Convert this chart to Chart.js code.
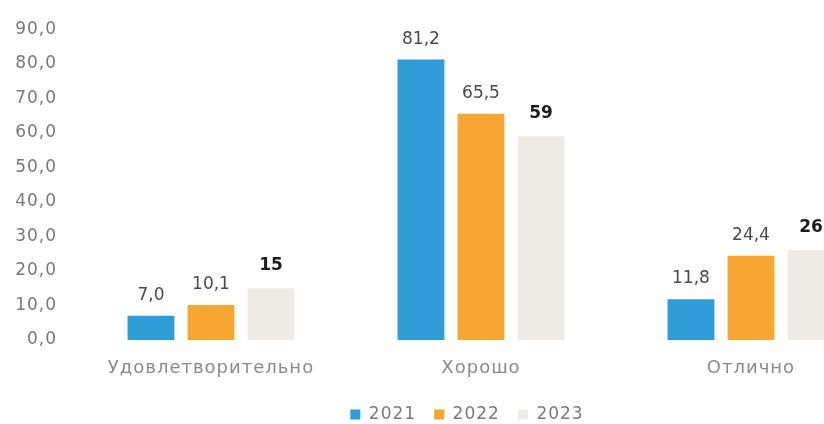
<!DOCTYPE html>
<html>
<head>
<meta charset="utf-8">
<script src="https://cdn.jsdelivr.net/npm/chart.js@4.4.1/dist/chart.umd.min.js"></script>
<style>
  html, body { margin: 0; padding: 0; background: #ffffff; overflow: hidden; }
  #wrap { position: relative; width: 922px; height: 433px; }
</style>
</head>
<body>
<div id="wrap"><canvas id="c"></canvas></div>
<script>
const categories = ['Удовлетворительно', 'Хорошо', 'Отлично'];
const seriesNames = ['2021', '2022', '2023'];
const values2021 = [7.0, 81.2, 11.8];
const values2022 = [10.1, 65.5, 24.4];
const values2023 = [15, 59, 26];
const yMin = 0, yMax = 90, yStep = 10;

const FONT = "'DejaVu Sans', 'Open Sans', sans-serif";
const fmt1 = v => v.toFixed(1).replace('.', ',');

const spacingPlugin = {
  id: 'spacing',
  beforeDraw(chart) { chart.ctx.letterSpacing = '1px'; },
  afterDraw(chart) { chart.ctx.letterSpacing = '0px'; }
};

const dataLabelPlugin = {
  id: 'dataLabels',
  afterDatasetsDraw(chart) {
    const ctx = chart.ctx;
    ctx.save();
    ctx.letterSpacing = '0px';
    ctx.textAlign = 'center';
    ctx.textBaseline = 'alphabetic';
    chart.data.datasets.forEach((ds, i) => {
      const meta = chart.getDatasetMeta(i);
      meta.data.forEach((el, j) => {
        const v = ds.data[j];
        if (i === 2) {
          ctx.font = "bold 17px " + FONT;
          ctx.fillStyle = '#1c1c1c';
          ctx.fillText(String(v), el.x, el.y - 18);
        } else {
          ctx.font = "17px " + FONT;
          ctx.fillStyle = '#4a4a4a';
          ctx.fillText(fmt1(v), el.x, el.y - 16);
        }
      });
    });
    ctx.restore();
  }
};

new Chart(document.getElementById('c'), {
  type: 'bar',
  data: {
    labels: categories,
    datasets: [
      { label: seriesNames[0], data: values2021, backgroundColor: '#2e9cd7' },
      { label: seriesNames[1], data: values2022, backgroundColor: '#f6a633' },
      { label: seriesNames[2], data: values2023, backgroundColor: '#eeebe6' }
    ]
  },
  options: {
    responsive: true,
    maintainAspectRatio: false,
    animation: false,
    events: [],
    layout: { padding: { top: 26, right: 0, left: 0, bottom: 0 } },
    datasets: { bar: { categoryPercentage: 0.667, barPercentage: 0.78 } },
    plugins: {
      tooltip: { enabled: false },
      legend: {
        position: 'bottom',
        labels: {
          boxWidth: 10, boxHeight: 10, padding: 18,
          color: '#7a7a7a',
          font: { family: FONT, size: 17 }
        }
      }
    },
    scales: {
      x: {
        grid: { display: false, drawTicks: false },
        border: { display: false },
        afterFit(scale) { scale.height = 48; },
        ticks: { color: '#8a8a8a', padding: 18, font: { family: FONT, size: 18 } }
      },
      y: {
        min: yMin, max: yMax,
        grid: { display: false, drawTicks: false },
        border: { display: false },
        afterFit(scale) { scale.width = 76; },
        ticks: {
          stepSize: yStep,
          padding: 19,
          color: '#787878',
          font: { family: FONT, size: 17 },
          callback: v => fmt1(v)
        }
      },
      yRight: {
        position: 'right',
        display: true,
        grid: { display: false, drawTicks: false },
        border: { display: false },
        ticks: { display: false },
        afterFit(scale) { scale.width = 36; }
      }
    }
  },
  plugins: [spacingPlugin, dataLabelPlugin]
});
</script>
</body>
</html>
